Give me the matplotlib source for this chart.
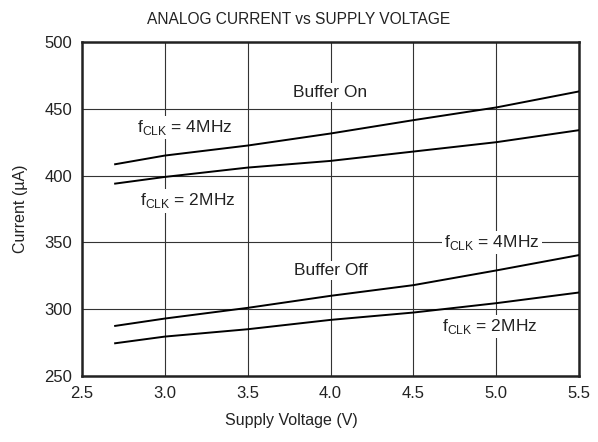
import matplotlib.pyplot as plt

plt.rcParams["font.family"] = ["Liberation Sans", "DejaVu Sans"]

voltage = [2.7, 3.0, 3.5, 4.0, 4.5, 5.0, 5.5]
on_4mhz = [408.5, 415, 422.5, 431.5, 441.5, 451, 463]
on_2mhz = [394, 399, 406, 411, 418, 425, 434]
off_4mhz = [287.5, 293, 301, 310, 318, 329, 340.5]
off_2mhz = [274.5, 279.5, 285, 292, 297.5, 304.5, 312.5]

xticks = [2.5, 3.0, 3.5, 4.0, 4.5, 5.0, 5.5]
yticks = [250, 300, 350, 400, 450, 500]

fig = plt.figure(figsize=(5.98, 4.42), dpi=100)
ax = fig.add_axes([82 / 598, 1 - 376 / 442, 497 / 598, 334 / 442])

for series in (on_4mhz, on_2mhz, off_4mhz, off_2mhz):
    ax.plot(voltage, series, color="black", linewidth=1.4, zorder=3)

ax.set_xlim(2.5, 5.5)
ax.set_ylim(250, 500)
ax.set_xticks(xticks)
ax.set_xticklabels([f"{v:.1f}" for v in xticks])
ax.set_yticks(yticks)
ax.tick_params(length=0, labelsize=12, pad=7, colors="#222222")
ax.grid(color="#333333", linewidth=0.8, zorder=1)
ax.set_axisbelow(True)
for sp in ax.spines.values():
    sp.set_linewidth(1.8)
    sp.set_color("#222222")

ax.set_xlabel("Supply Voltage (V)", fontsize=11.5, color="#222222")
ax.xaxis.set_label_coords((291 - 82) / 497, -0.11)
ax.set_ylabel("Current (\u00b5A)", fontsize=11.5, labelpad=12, color="#222222")
fig.suptitle("ANALOG CURRENT vs SUPPLY VOLTAGE", fontsize=11.2, y=1 - 20 / 442,
             va="center", color="#222222")

box = dict(facecolor="white", edgecolor="none", pad=1.5)
labels = [
    (4.0, 462, "Buffer On"),
    (3.12, 436, r"f$_{\mathregular{CLK}}$ = 4MHz"),
    (3.14, 381, r"f$_{\mathregular{CLK}}$ = 2MHz"),
    (4.0, 329, "Buffer Off"),
    (4.975, 350, r"f$_{\mathregular{CLK}}$ = 4MHz"),
    (4.96, 287, r"f$_{\mathregular{CLK}}$ = 2MHz"),
]
for x, y, s in labels:
    ax.text(x, y, s, ha="center", va="center", fontsize=12.5, bbox=box,
            zorder=2, color="#222222")

fig.savefig("out.png", dpi=100)
